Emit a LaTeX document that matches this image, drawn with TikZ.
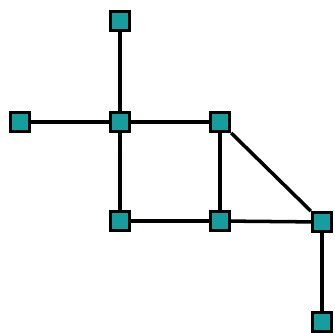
\documentclass[tikz,border=0pt]{standalone}
\usepackage{tikz}

\definecolor{stationteal}{RGB}{22,158,158}

\tikzset{
  station/.style={draw=black,fill=stationteal,line width=2.5pt,rectangle,
    minimum size=16.5pt,inner sep=0pt},
  track/.style={line width=3pt,black}
}

\begin{document}
\begin{tikzpicture}[x=0.03cm,y=-0.03cm]
  \useasboundingbox (0,0) rectangle (335,332);
  % Stations
  \node[station] (top) at (120,21) {};
  \node[station] (west) at (20,122) {};
  \node[station] (hub) at (120,122) {};
  \node[station] (east) at (220,122) {};
  \node[station] (sw) at (120,221) {};
  \node[station] (south) at (220,221) {};
  \node[station] (se) at (322,222) {};
  \node[station] (tail) at (322,322) {};
  % Tracks
  \draw[track] (top) -- (hub);
  \draw[track] (west) -- (hub);
  \draw[track] (hub) -- (east);
  \draw[track] (hub) -- (sw);
  \draw[track] (east) -- (south);
  \draw[track] (east) -- (se);
  \draw[track] (sw) -- (south);
  \draw[track] (south) -- (se);
  \draw[track] (se) -- (tail);
\end{tikzpicture}
\end{document}
